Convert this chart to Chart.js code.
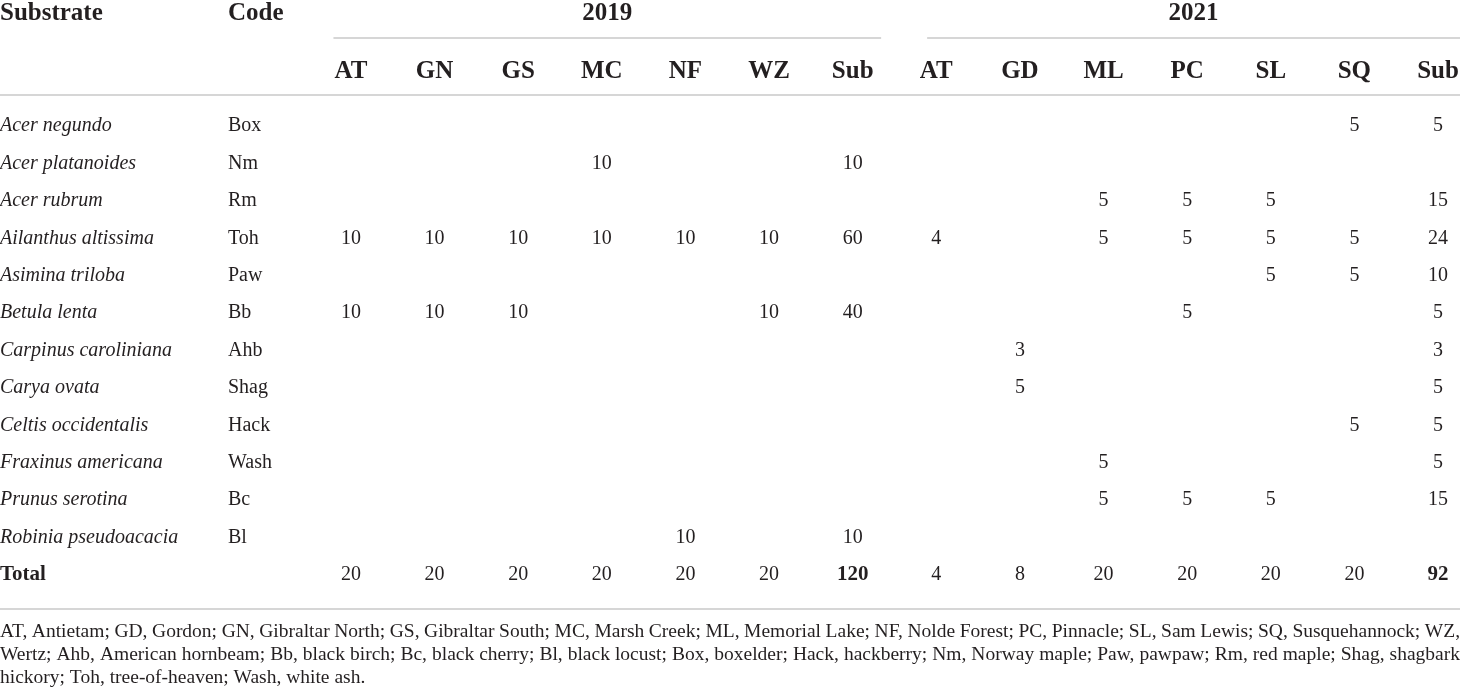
<!DOCTYPE html>
<html>
<head>
<title>Substrate samples by site</title>
<script src="https://cdn.jsdelivr.net/npm/chart.js"></script>
<style>
body{
    margin: 0;
    background-color: #ffffff;
}
#wrap{
    width: 1460px;
    height: 694px;
    position: relative;
}
</style>
</head>
<body>
<div id="wrap"><canvas id="tableChart"></canvas></div>
<script>
// table content
const columns = ['AT', 'GN', 'GS', 'MC', 'NF', 'WZ', 'Sub', 'AT', 'GD', 'ML', 'PC', 'SL', 'SQ', 'Sub'];
const years = ['2019', '2021'];
const substrates = ['Acer negundo', 'Acer platanoides', 'Acer rubrum', 'Ailanthus altissima', 'Asimina triloba',
    'Betula lenta', 'Carpinus caroliniana', 'Carya ovata', 'Celtis occidentalis', 'Fraxinus americana',
    'Prunus serotina', 'Robinia pseudoacacia', 'Total'];
const codes = ['Box', 'Nm', 'Rm', 'Toh', 'Paw', 'Bb', 'Ahb', 'Shag', 'Hack', 'Wash', 'Bc', 'Bl', ''];
const _ = null;
const counts = [
    [_, _, _, _, _, _, _,     _, _, _, _, _, 5, 5],
    [_, _, _, 10, _, _, 10,   _, _, _, _, _, _, _],
    [_, _, _, _, _, _, _,     _, _, 5, 5, 5, _, 15],
    [10, 10, 10, 10, 10, 10, 60,  4, _, 5, 5, 5, 5, 24],
    [_, _, _, _, _, _, _,     _, _, _, _, 5, 5, 10],
    [10, 10, 10, _, _, 10, 40,  _, _, _, 5, _, _, 5],
    [_, _, _, _, _, _, _,     _, 3, _, _, _, _, 3],
    [_, _, _, _, _, _, _,     _, 5, _, _, _, _, 5],
    [_, _, _, _, _, _, _,     _, _, _, _, _, 5, 5],
    [_, _, _, _, _, _, _,     _, _, 5, _, _, _, 5],
    [_, _, _, _, _, _, _,     _, _, 5, 5, 5, _, 15],
    [_, _, _, _, 10, _, 10,   _, _, _, _, _, _, _],
    [20, 20, 20, 20, 20, 20, 120,  4, 8, 20, 20, 20, 20, 92]
];
const footnote = [
    'AT, Antietam; GD, Gordon; GN, Gibraltar North; GS, Gibraltar South; MC, Marsh Creek; ML, Memorial Lake; NF, Nolde Forest; PC, Pinnacle; SL, Sam Lewis; SQ, Susquehannock; WZ,',
    'Wertz; Ahb, American hornbeam; Bb, black birch; Bc, black cherry; Bl, black locust; Box, boxelder; Hack, hackberry; Nm, Norway maple; Paw, pawpaw; Rm, red maple; Shag, shagbark',
    'hickory; Toh, tree-of-heaven; Wash, white ash.'
];

const FONT = '"Liberation Serif", "Times New Roman", serif';
const INK = '#231f20';
const RULE = '#c9c9c9';

// one point per filled cell
const cells = [];
counts.forEach((row, r) => {
    row.forEach((v, c) => {
        if (v !== null) cells.push({x: c, y: r, v: v});
    });
});

function hline(ctx, x1, x2, y) {
    ctx.save();
    ctx.strokeStyle = RULE;
    ctx.lineWidth = 1.6;
    ctx.beginPath();
    ctx.moveTo(x1, y);
    ctx.lineTo(x2, y);
    ctx.stroke();
    ctx.restore();
}

// justified line of text between x0 and x1
function justify(ctx, text, x0, x1, y) {
    const words = text.split(' ');
    let total = 0;
    words.forEach(w => total += ctx.measureText(w).width);
    const gap = (x1 - x0 - total) / (words.length - 1);
    let x = x0;
    words.forEach(w => {
        ctx.fillText(w, x, y);
        x += ctx.measureText(w).width + gap;
    });
}

const tablePlugin = {
    id: 'tablePlugin',
    afterDatasetsDraw(chart) {
        const ctx = chart.ctx;
        const xs = chart.scales.x;
        const ys = chart.scales.y;
        const W = chart.width;
        ctx.save();
        ctx.fillStyle = INK;

        // header row 1
        ctx.textBaseline = 'alphabetic';
        ctx.font = 'bold 25px ' + FONT;
        ctx.textAlign = 'left';
        ctx.fillText('Substrate', 0, 20);
        ctx.fillText('Code', 228, 20);
        const g1a = xs.getPixelForValue(-0.21), g1b = xs.getPixelForValue(6.34);
        const g2a = xs.getPixelForValue(6.89), g2b = W;
        ctx.textAlign = 'center';
        ctx.fillText(years[0], (g1a + g1b) / 2, 20);
        ctx.fillText(years[1], (g2a + g2b) / 2, 20);
        hline(ctx, g1a, g1b, 38);
        hline(ctx, g2a, g2b, 38);

        // header row 2
        columns.forEach((c, i) => {
            ctx.fillText(c, xs.getPixelForValue(i), 78);
        });
        hline(ctx, 0, W, 95);

        // row labels
        ctx.textBaseline = 'middle';
        ctx.textAlign = 'left';
        substrates.forEach((s, r) => {
            const y = ys.getPixelForValue(r);
            if (r === substrates.length - 1) {
                ctx.font = 'bold 21px ' + FONT;
            } else {
                ctx.font = 'italic 20px ' + FONT;
            }
            ctx.fillText(s, 0, y);
            ctx.font = '20px ' + FONT;
            ctx.fillText(codes[r], 228, y);
        });

        // cell values at the point positions
        ctx.textAlign = 'center';
        const meta = chart.getDatasetMeta(0);
        meta.data.forEach((pt, i) => {
            const d = cells[i];
            const bold = d.y === substrates.length - 1 && columns[d.x] === 'Sub';
            ctx.font = (bold ? 'bold 21px ' : '20px ') + FONT;
            ctx.fillText(String(d.v), pt.x, pt.y);
        });

        hline(ctx, 0, W, 609);

        // footnote
        ctx.textBaseline = 'alphabetic';
        ctx.font = '19.5px ' + FONT;
        ctx.textAlign = 'left';
        justify(ctx, footnote[0], 0, W, 637);
        justify(ctx, footnote[1], 0, W, 660);
        ctx.fillText(footnote[2], 0, 683);
        ctx.restore();
    }
};

new Chart(document.getElementById('tableChart'), {
    type: 'scatter',
    data: {
        datasets: [{
            data: cells,
            pointRadius: 0,
            pointHoverRadius: 0
        }]
    },
    options: {
        responsive: true,
        maintainAspectRatio: false,
        animation: false,
        layout: {
            padding: {left: 351, right: 22, top: 126, bottom: 119}
        },
        scales: {
            x: {type: 'linear', display: false, min: 0, max: columns.length - 1},
            y: {type: 'linear', display: false, min: 0, max: substrates.length - 1, reverse: true}
        },
        plugins: {
            legend: {display: false},
            tooltip: {enabled: false}
        }
    },
    plugins: [tablePlugin]
});
</script>
</body>
</html>
